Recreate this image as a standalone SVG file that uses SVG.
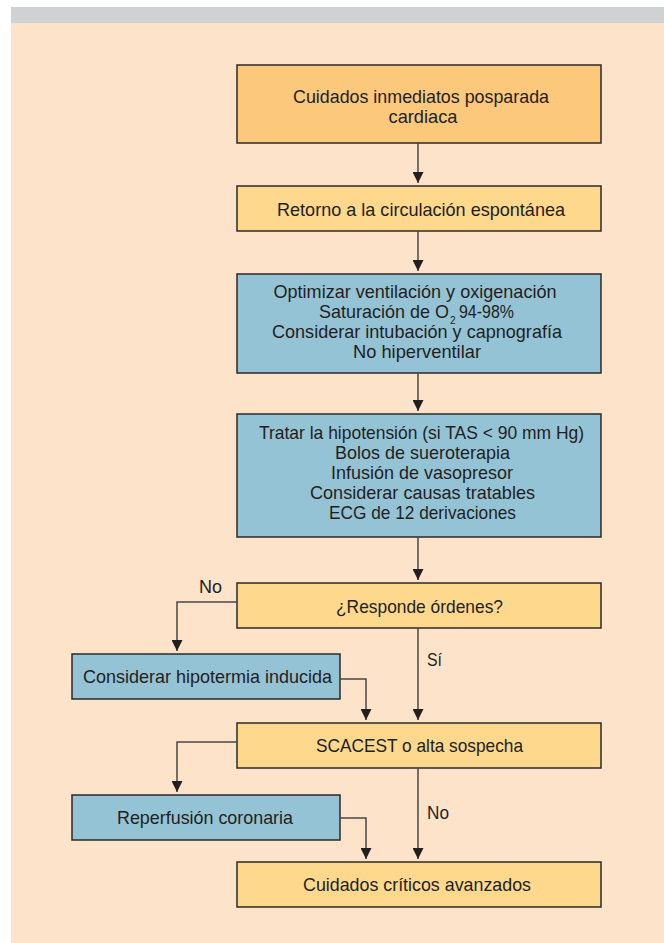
<svg xmlns="http://www.w3.org/2000/svg" width="664" height="943" viewBox="0 0 664 943">
<style>
.bg{fill:#FDE3C9}
.band{fill:#CFD1D3}
.box{stroke:#2B2A29;stroke-width:1.5}
.or{fill:#FBC87C}
.ye{fill:#FDD88D}
.bl{fill:#95C3D6}
text{font-family:"Liberation Sans",Arial,sans-serif;font-size:19px;fill:#231F20;text-anchor:middle}
.lbl{text-anchor:start}
.st{text-anchor:start}
.en{text-anchor:end}
.sub{font-size:10px;text-anchor:start}
.con{fill:none;stroke:#4A4746;stroke-width:1.5}
</style>
<defs>
<marker id="arr" markerUnits="userSpaceOnUse" markerWidth="11" markerHeight="11" viewBox="0 0 10 10" refX="10" refY="5" orient="auto">
<path d="M0,0 L10,5 L0,10 Z" fill="#231F20"/>
</marker>
</defs>
<rect class="bg" x="11" y="7" width="653" height="936"/>
<rect class="band" x="11" y="7" width="653" height="16"/>

<g id="n1"><rect class="box or" x="237" y="65" width="364" height="78"/>
<text x="421" y="103" textLength="256" lengthAdjust="spacingAndGlyphs">Cuidados inmediatos posparada</text>
<text x="423" y="123" textLength="69" lengthAdjust="spacingAndGlyphs">cardiaca</text></g>

<g id="n2"><rect class="box ye" x="237" y="186" width="364" height="45"/>
<text x="421" y="216" textLength="288" lengthAdjust="spacingAndGlyphs">Retorno a la circulación espontánea</text></g>

<g id="n3"><rect class="box bl" x="237" y="274" width="364" height="99"/>
<text x="415" y="298" textLength="283" lengthAdjust="spacingAndGlyphs">Optimizar ventilación y oxigenación</text>
<text class="en" x="449" y="318" textLength="130" lengthAdjust="spacingAndGlyphs">Saturación de O</text>
<text class="sub" x="450" y="324">2</text>
<text class="st" x="459" y="318" textLength="55" lengthAdjust="spacingAndGlyphs">94-98%</text>
<text x="417" y="338" textLength="290" lengthAdjust="spacingAndGlyphs">Considerar intubación y capnografía</text>
<text x="417" y="358" textLength="128" lengthAdjust="spacingAndGlyphs">No hiperventilar</text></g>

<g id="n4"><rect class="box bl" x="237" y="414" width="364" height="123"/>
<text x="421.5" y="439" textLength="325" lengthAdjust="spacingAndGlyphs">Tratar la hipotensión (si TAS &lt; 90 mm Hg)</text>
<text x="422.5" y="459" textLength="175" lengthAdjust="spacingAndGlyphs">Bolos de sueroterapia</text>
<text x="422" y="479" textLength="182" lengthAdjust="spacingAndGlyphs">Infusión de vasopresor</text>
<text x="422.5" y="499" textLength="225" lengthAdjust="spacingAndGlyphs">Considerar causas tratables</text>
<text x="422.5" y="519" textLength="187" lengthAdjust="spacingAndGlyphs">ECG de 12 derivaciones</text></g>

<g id="n5"><rect class="box ye" x="237" y="583" width="364" height="45"/>
<text x="419.5" y="613" textLength="167" lengthAdjust="spacingAndGlyphs">¿Responde órdenes?</text></g>

<g id="n6"><rect class="box bl" x="72" y="654" width="268" height="45"/>
<text x="207.5" y="683" textLength="249" lengthAdjust="spacingAndGlyphs">Considerar hipotermia inducida</text></g>

<g id="n7"><rect class="box ye" x="237" y="723" width="364" height="45"/>
<text x="419.5" y="752" textLength="207" lengthAdjust="spacingAndGlyphs">SCACEST o alta sospecha</text></g>

<g id="n8"><rect class="box bl" x="72" y="795" width="268" height="45"/>
<text x="205" y="824" textLength="176" lengthAdjust="spacingAndGlyphs">Reperfusión coronaria</text></g>

<g id="n9"><rect class="box ye" x="237" y="862" width="364" height="45"/>
<text x="417" y="891" textLength="228" lengthAdjust="spacingAndGlyphs">Cuidados críticos avanzados</text></g>

<g id="connectors">
<path class="con" marker-end="url(#arr)" d="M418,143 V183"/>
<path class="con" marker-end="url(#arr)" d="M418,231 V271"/>
<path class="con" marker-end="url(#arr)" d="M418,373 V411"/>
<path class="con" marker-end="url(#arr)" d="M418,537 V580"/>
<path class="con" marker-end="url(#arr)" d="M418,628 V720"/>
<path class="con" marker-end="url(#arr)" d="M237,602 H177 V651"/>
<path class="con" marker-end="url(#arr)" d="M340,679 H366 V720"/>
<path class="con" marker-end="url(#arr)" d="M237,742 H177 V792"/>
<path class="con" marker-end="url(#arr)" d="M418,768 V859"/>
<path class="con" marker-end="url(#arr)" d="M340,818 H366 V859"/>
<text class="lbl" x="199" y="593" textLength="23" lengthAdjust="spacingAndGlyphs">No</text>
<text class="lbl" x="427" y="666" textLength="15" lengthAdjust="spacingAndGlyphs">Sí</text>
<text class="lbl" x="427" y="819" textLength="22" lengthAdjust="spacingAndGlyphs">No</text>
</g>
</svg>
